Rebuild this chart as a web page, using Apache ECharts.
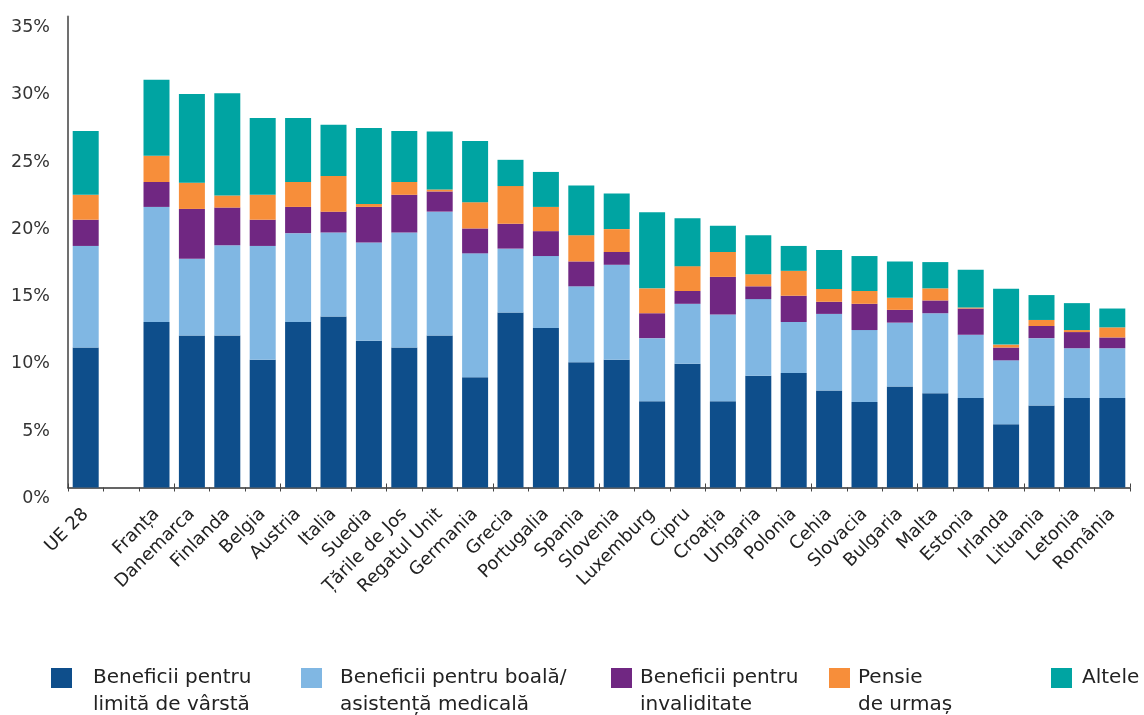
<!DOCTYPE html>
<html><head><meta charset="utf-8">
<script src="https://cdn.jsdelivr.net/npm/echarts@6/dist/echarts.min.js"></script>
<style>html,body{margin:0;padding:0;background:#fff}#c{width:1144px;height:715px}</style>
</head><body><div id="c"></div>
<script>
const categories = ['UE 28', '', 'Franța', 'Danemarca', 'Finlanda', 'Belgia', 'Austria', 'Italia', 'Suedia', 'Țările de Jos', 'Regatul Unit', 'Germania', 'Grecia', 'Portugalia', 'Spania', 'Slovenia', 'Luxemburg', 'Cipru', 'Croația', 'Ungaria', 'Polonia', 'Cehia', 'Slovacia', 'Bulgaria', 'Malta', 'Estonia', 'Irlanda', 'Lituania', 'Letonia', 'România'];
const varsta       = [10.4, null, 12.3, 11.3, 11.3, 9.5, 12.3, 12.7, 10.9, 10.4, 11.3, 8.2, 13.0, 11.85, 9.3, 9.5, 6.4, 9.2, 6.4, 8.3, 8.5, 7.2, 6.35, 7.5, 7.0, 6.65, 4.7, 6.1, 6.65, 6.65];
const boala        = [7.55, null, 8.55, 5.7, 6.7, 8.45, 6.6, 6.25, 7.3, 8.55, 9.2, 9.2, 4.75, 5.35, 5.65, 7.05, 4.7, 4.45, 6.45, 5.7, 3.8, 5.7, 5.35, 4.75, 5.95, 4.7, 4.75, 5.0, 3.7, 3.7];
const invaliditate = [1.95, null, 1.85, 3.7, 2.8, 1.95, 1.95, 1.55, 2.65, 2.8, 1.5, 1.85, 1.85, 1.85, 1.85, 0.95, 1.85, 0.95, 2.8, 0.95, 1.95, 0.9, 1.95, 0.95, 0.95, 1.95, 0.95, 0.9, 1.2, 0.8];
const urmas        = [1.85, null, 1.95, 1.95, 0.9, 1.85, 1.85, 2.65, 0.22, 0.95, 0.15, 1.95, 2.8, 1.8, 1.95, 1.7, 1.85, 1.85, 1.85, 0.9, 1.85, 0.95, 0.95, 0.9, 0.9, 0.08, 0.22, 0.45, 0.15, 0.75];
const altele       = [4.75, null, 5.65, 6.6, 7.6, 5.7, 4.75, 3.8, 5.65, 3.8, 4.3, 4.55, 1.95, 2.6, 3.7, 2.65, 5.65, 3.55, 1.95, 2.9, 1.85, 2.9, 2.6, 2.7, 1.95, 2.8, 4.15, 1.85, 2.0, 1.4];
const seriesNames = ['Beneficii pentru\nlimită de vârstă', 'Beneficii pentru boală/\nasistență medicală', 'Beneficii pentru\ninvaliditate', 'Pensie\nde urmaș', 'Altele\n '];
const yTicks = [0, 5, 10, 15, 20, 25, 30, 35];

const colors = ['#0E4E8B', '#80B7E3', '#702782', '#F78E3A', '#00A4A2'];
const FONT = 'DejaVu Sans, sans-serif';
const seriesData = [varsta, boala, invaliditate, urmas, altele];

const legendLefts = [51, 301, 611, 829, 1051];
const legendTextGaps = [42, 39, 29, 29, 31];

function legendFor(i) {
  const w = legendTextGaps[i] - 5;
  return {
    data: [seriesNames[i]],
    left: legendLefts[i],
    top: 664.5,
    padding: 0,
    itemWidth: w,
    itemHeight: 50,
    symbolKeepAspect: false,
    icon: 'path://M0,0H0.01V0.01H0Z M0,1.5H21V21.5H0Z M' + w + ',50H' + (w + 0.01) + 'V50.01H' + w + 'Z',
    itemStyle: { borderWidth: 0 },
    selectedMode: false,
    textStyle: { fontFamily: FONT, fontSize: 20, color: '#222', lineHeight: 27 }
  };
}

const chart = echarts.init(document.getElementById('c'), null, { renderer: 'canvas' });
chart.setOption({
  animation: false,
  backgroundColor: '#fff',
  grid: { left: 68, right: 14, top: 16.5, bottom: 227.5, containLabel: false },
  legend: [0, 1, 2, 3, 4].map(legendFor),
  xAxis: [{
    type: 'category',
    data: categories,
    axisLine: { show: true, lineStyle: { color: '#333', width: 1.5 } },
    axisTick: { show: true, length: 4, lineStyle: { color: '#444' } },
    axisLabel: { interval: 0, rotate: 45, margin: 24, fontFamily: FONT, fontSize: 18, color: '#222' },
    splitLine: { show: false }
  }, {
    type: 'category',
    data: categories,
    position: 'bottom',
    axisLine: { show: false },
    axisTick: { show: true, inside: true, length: 4, lineStyle: { color: '#444' } },
    axisLabel: { show: false },
    splitLine: { show: false }
  }],
  yAxis: {
    type: 'value',
    min: yTicks[0],
    max: yTicks[yTicks.length - 1],
    interval: 5,
    axisLine: { show: true, lineStyle: { color: '#707070', width: 2 } },
    axisTick: { show: false },
    splitLine: { show: false },
    axisLabel: { formatter: '{value}%', fontFamily: FONT, fontSize: 17.5, color: '#333', margin: 18, verticalAlign: 'top', lineHeight: 22 }
  },
  series: seriesData.map((d, i) => ({
    name: seriesNames[i],
    type: 'bar',
    stack: 'total',
    barWidth: 26,
    data: d,
    itemStyle: { color: colors[i] }
  }))
});
</script>
</body></html>
